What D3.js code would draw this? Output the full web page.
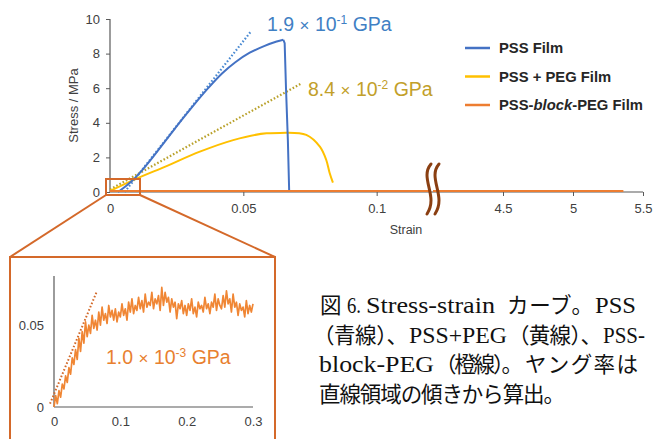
<!DOCTYPE html>
<html><head><meta charset="utf-8">
<script src="https://cdn.jsdelivr.net/npm/d3@7"></script>
<style>
body{margin:0;background:#fff;}
svg{display:block;font-family:"Liberation Sans",Arial,sans-serif;}
</style></head>
<body><svg id="c" width="656" height="439"></svg>
<script>
// ---- data ----
const seriesNames = ["PSS Film", "PSS + PEG Film", "PSS-block-PEG Film"];
const xTicksLeft = [0, 0.05, 0.1];
const xTicksRight = [4.5, 5, 5.5];
const yTicks = [0, 2, 4, 6, 8, 10];
const insetXTicks = [0, 0.1, 0.2, 0.3];
const insetYTicks = [0, 0.05];

// PSS film (blue): strain, stress (MPa)
const pssStrain = [0.003,0.006,0.009,0.012,0.016,0.021,0.026,0.031,0.0368,0.042,0.047,0.0524,0.058,0.0625,0.065,0.0655,0.066,0.0667,0.0672];
const pssStress = [0,0.35,0.75,1.25,2.0,3.0,4.0,4.95,6.0,6.85,7.5,8.05,8.45,8.7,8.8,8.6,6.0,3.0,0];
// PSS + PEG film (yellow)
const pegStrain = [0,0.0087,0.0212,0.0337,0.0462,0.0587,0.066,0.0736,0.0787,0.0811,0.0824,0.0836];
const pegStress = [0.06,0.69,1.5,2.33,3.0,3.39,3.43,3.3,2.62,1.85,1.08,0.54];
// PSS-block-PEG film (orange) on the main axes
const blkStrainLeft = [0, 0.12];
const blkStressLeft = [0.06, 0.06];
const blkStrainRight = [4.0, 5.36];
const blkStressRight = [0.06, 0.06];
// Young's modulus fit lines
const fitPss = [[0.0055, 0], [0.0527, 9.25]];
const fitPeg = [[0, 0.15], [0.0718, 6.28]];
const fitBlk = [[-0.006, 0.002], [0.064, 0.070]];
// inset: PSS-block-PEG trace, strain step 0.0025 from 0 to 0.3
const insetStep = 0.0025;
const insetStress = [0.000,0.007,0.002,0.010,0.006,0.014,0.011,0.019,0.015,0.024,0.020,0.030,0.026,0.035,0.029,0.042,0.034,0.046,0.039,0.052,0.043,
0.050,0.045,0.056,0.048,0.053,0.047,0.058,0.050,0.061,0.053,0.057,0.051,0.062,0.055,0.059,0.053,0.060,0.052,0.058,0.055,
0.063,0.056,0.060,0.053,0.064,0.058,0.066,0.057,0.062,0.059,0.067,0.060,0.065,0.058,0.069,0.061,0.064,0.062,0.070,0.060,
0.066,0.063,0.068,0.059,0.073,0.062,0.070,0.064,0.067,0.058,0.066,0.061,0.064,0.054,0.063,0.060,0.065,0.057,0.062,0.056,
0.063,0.059,0.066,0.057,0.061,0.055,0.064,0.060,0.062,0.058,0.067,0.060,0.063,0.057,0.064,0.061,0.069,0.059,0.066,0.062,
0.060,0.068,0.061,0.071,0.063,0.066,0.058,0.069,0.061,0.064,0.056,0.063,0.059,0.061,0.055,0.065,0.057,0.062,0.058,0.063];
const modulusLabels = [["1.9", "-1"], ["8.4", "-2"], ["1.0", "-3"]];
// caption: [text, script]  (l = latin serif, j = Japanese)
const captionLines = [
  [["図","j"],["6.","l"],["Stress-strain","l"],["カーブ。","j"],["PSS","l"]],
  [["（青線）、","j"],["PSS+PEG","l"],["（黄線）、","j"],["PSS-","l"]],
  [["block-PEG","l"],["（橙線）。","j"],["ヤング率は","j"]],
  [["直線領域の傾きから算出。","j"]]
];
// caption layout: [x, fitted width or 0]
const captionLayout = [
  [[320,0],[347,14],[366,129],[507,86],[595,41]],
  [[313,95],[409,98],[508,94],[603,42]],
  [[319,115],[435,88],[525,113]],
  [[319,246]]
];

// ---- drawing ----
const svg = d3.select("#c");
const C = {blue:"#4472C4", yellow:"#FFC000", orange:"#ED7D31", axis:"#595959", text:"#404040",
  blueT:"#3f80c4", goldT:"#c2a02a", orangeT:"#e8802f", box:"#d4692a", brk:"#8a3f12",
  blueD:"#4a8ad2", goldD:"#b9a12a", orangeD:"#d2692a"};

const xL = d3.scaleLinear().domain([0, 0.12]).range([110, 430]);
const xR = d3.scaleLinear().domain([4.0, 5.5]).range([433, 643]);
const y = d3.scaleLinear().domain([0, 10]).range([192, 19]);

const line = (xs) => d3.line().x(d => xs(d[0])).y(d => y(d[1]));
const zip = (a, b) => a.map((v, i) => [v, b[i]]);

// axes
const gy = svg.append("g").attr("transform", `translate(${xL(0)},0)`)
  .call(d3.axisLeft(y).tickValues(yTicks).tickSize(4).tickPadding(6).tickFormat(d3.format("d")));
const gxl = svg.append("g").attr("transform", `translate(0,${y(0)})`)
  .call(d3.axisBottom(xL).tickValues(xTicksLeft).tickSize(4).tickPadding(8).tickFormat(d => d === 0 ? "0" : d3.format("~g")(d)));
const gxr = svg.append("g").attr("transform", `translate(0,${y(0)})`)
  .call(d3.axisBottom(xR).tickValues(xTicksRight).tickSize(4).tickPadding(8).tickFormat(d3.format("~g")));
[gy, gxl, gxr].forEach(g => {
  g.select(".domain").remove();
  g.selectAll(".tick line").attr("stroke", C.axis);
  g.selectAll(".tick text").attr("fill", C.text).style("font-size", "13px").style("font-family", "'Liberation Sans', Arial, sans-serif");
});
gxl.selectAll(".tick").filter(d => d === 0).select("line").remove();
svg.append("line").attr("x1", xL(0)).attr("x2", xR(5.5)).attr("y1", y(0)).attr("y2", y(0)).attr("stroke", C.axis).attr("stroke-width", 1.2);
svg.append("line").attr("x1", xL(0)).attr("x2", xL(0)).attr("y1", y(0)).attr("y2", y(10)).attr("stroke", C.axis).attr("stroke-width", 1.2);

svg.append("text").attr("transform", `translate(78,${(y(0)+y(10))/2}) rotate(-90)`).attr("text-anchor", "middle")
  .attr("fill", C.text).style("font-size", "13px").text("Stress / MPa");
svg.append("text").attr("x", 406).attr("y", 234).attr("text-anchor", "middle").attr("fill", C.text).style("font-size", "12.5px").text("Strain");

// fit lines (dotted)
svg.append("path").attr("d", line(xL)(fitPss)).attr("fill", "none").attr("stroke", C.blueD).attr("stroke-width", 2.2).attr("stroke-dasharray", "1.6,2");
svg.append("path").attr("d", line(xL)(fitPeg)).attr("fill", "none").attr("stroke", C.goldD).attr("stroke-width", 2.2).attr("stroke-dasharray", "1.6,2");

// curves
svg.append("path").attr("d", line(xL).curve(d3.curveMonotoneX)(zip(pegStrain, pegStress).slice(0, 7)))
  .attr("fill", "none").attr("stroke", C.yellow).attr("stroke-width", 2);
svg.append("path").attr("d", line(xL).curve(d3.curveCatmullRom)(zip(pegStrain, pegStress).slice(6)))
  .attr("fill", "none").attr("stroke", C.yellow).attr("stroke-width", 2);
svg.append("path").attr("d", line(xL).curve(d3.curveCatmullRom)(zip(pssStrain, pssStress).slice(0, 15)))
  .attr("fill", "none").attr("stroke", C.blue).attr("stroke-width", 2);
svg.append("path").attr("d", line(xL)(zip(pssStrain, pssStress).slice(14)))
  .attr("fill", "none").attr("stroke", C.blue).attr("stroke-width", 2);
svg.append("path").attr("d", line(xL)(zip(blkStrainLeft, blkStressLeft))).attr("fill", "none").attr("stroke", C.orange).attr("stroke-width", 2);
svg.append("path").attr("d", line(xR)(zip(blkStrainRight, blkStressRight))).attr("fill", "none").attr("stroke", C.orange).attr("stroke-width", 2);

// axis break symbol
[428, 436].forEach(bx => {
  svg.append("path").attr("d", `M${bx+3},164 C${bx-9},178 ${bx+11},196 ${bx-1},214`)
    .attr("fill", "none").attr("stroke", C.brk).attr("stroke-width", 3).attr("stroke-linecap", "round");
});

// modulus labels
function modLabel(g, x, yy, lab, color) {
  const t = g.append("text").attr("x", x).attr("y", yy).attr("fill", color).style("font-size", "19.5px");
  t.append("tspan").text(lab[0] + " ");
  t.append("tspan").style("font-size", "17px").text("×");
  t.append("tspan").text(" 10");
  t.append("tspan").attr("dy", -7).style("font-size", "12px").text(lab[1]);
  t.append("tspan").attr("dy", 7).text(" GPa");
}
modLabel(svg, 267, 31, modulusLabels[0], C.blueT);
modLabel(svg, 308, 96, modulusLabels[1], C.goldT);

// legend
const legColors = [C.blue, C.yellow, C.orange];
seriesNames.forEach((n, i) => {
  const ly = 48 + i * 28.5;
  svg.append("line").attr("x1", 465).attr("x2", 490).attr("y1", ly).attr("y2", ly).attr("stroke", legColors[i]).attr("stroke-width", 2.5);
  const t = svg.append("text").attr("x", 499).attr("y", ly + 5).attr("fill", "#262626").style("font-size", "14.8px").style("font-weight", "bold");
  if (n.includes("block")) {
    t.append("tspan").text("PSS-");
    t.append("tspan").style("font-style", "italic").text("block");
    t.append("tspan").text("-PEG Film");
  } else t.text(n);
});

// zoom box + connectors
svg.append("rect").attr("x", 106).attr("y", 179).attr("width", 34).attr("height", 16).attr("fill", "none").attr("stroke", C.box).attr("stroke-width", 2);
svg.append("line").attr("x1", 106).attr("y1", 195).attr("x2", 10).attr("y2", 257).attr("stroke", C.box).attr("stroke-width", 2);
svg.append("line").attr("x1", 140).attr("y1", 195).attr("x2", 275).attr("y2", 257).attr("stroke", C.box).attr("stroke-width", 2);
svg.append("rect").attr("x", 10).attr("y", 257).attr("width", 265).attr("height", 200).attr("fill", "none").attr("stroke", C.box).attr("stroke-width", 2);

// inset
const ix = d3.scaleLinear().domain([0, 0.3]).range([54, 253]);
const iy = d3.scaleLinear().domain([0, 0.08]).range([407, 276]);
const gix = svg.append("g").attr("transform", `translate(0,${iy(0)})`)
  .call(d3.axisBottom(ix).tickValues(insetXTicks).tickSize(0).tickPadding(10).tickFormat(d => d === 0 ? "0" : d3.format("~g")(d)));
const giy = svg.append("g").attr("transform", `translate(${ix(0)},0)`)
  .call(d3.axisLeft(iy).tickValues(insetYTicks).tickSize(0).tickPadding(10).tickFormat(d => d === 0 ? "0" : d3.format("~g")(d)));
[gix, giy].forEach(g => {
  g.select(".domain").remove();
  g.selectAll(".tick text").attr("fill", C.text).style("font-size", "13px").style("font-family", "'Liberation Sans', Arial, sans-serif");
});
svg.append("line").attr("x1", ix(0)).attr("x2", ix(0.3)).attr("y1", iy(0)).attr("y2", iy(0)).attr("stroke", C.axis).attr("stroke-width", 1.2);
svg.append("line").attr("x1", ix(0)).attr("x2", ix(0)).attr("y1", iy(0)).attr("y2", iy(0.08)).attr("stroke", C.axis).attr("stroke-width", 1.2);
svg.append("path").attr("d", d3.line().x(d => ix(d[0])).y(d => iy(d[1]))(fitBlk)).attr("fill", "none")
  .attr("stroke", C.orangeD).attr("stroke-width", 2).attr("stroke-dasharray", "1.6,2");
svg.append("path").attr("d", d3.line().x((d, i) => ix(i * insetStep)).y(d => iy(d))(insetStress))
  .attr("fill", "none").attr("stroke", "#F08634").attr("stroke-width", 1.7).attr("stroke-linejoin", "round");
modLabel(svg, 106, 364, modulusLabels[2], C.orangeT);

// caption: one text element per line, each segment a positioned tspan
captionLines.forEach((parts, i) => {
  const t = svg.append("text").attr("y", 313 + i * 29.7).attr("fill", "#111");
  parts.forEach((p, k) => {
    const [x, w] = captionLayout[i][k];
    const s = t.append("tspan").attr("x", x)
      .style("font-size", p[1] === "j" ? "21.5px" : "23px")
      .style("font-family", p[1] === "j" ? "'Noto Sans CJK JP', sans-serif" : "'Liberation Serif', 'Times New Roman', serif")
      .text(p[0]);
    if (w) s.attr("textLength", w).attr("lengthAdjust", p[1] === "j" ? "spacing" : "spacingAndGlyphs");
  });
});
</script></body></html>
